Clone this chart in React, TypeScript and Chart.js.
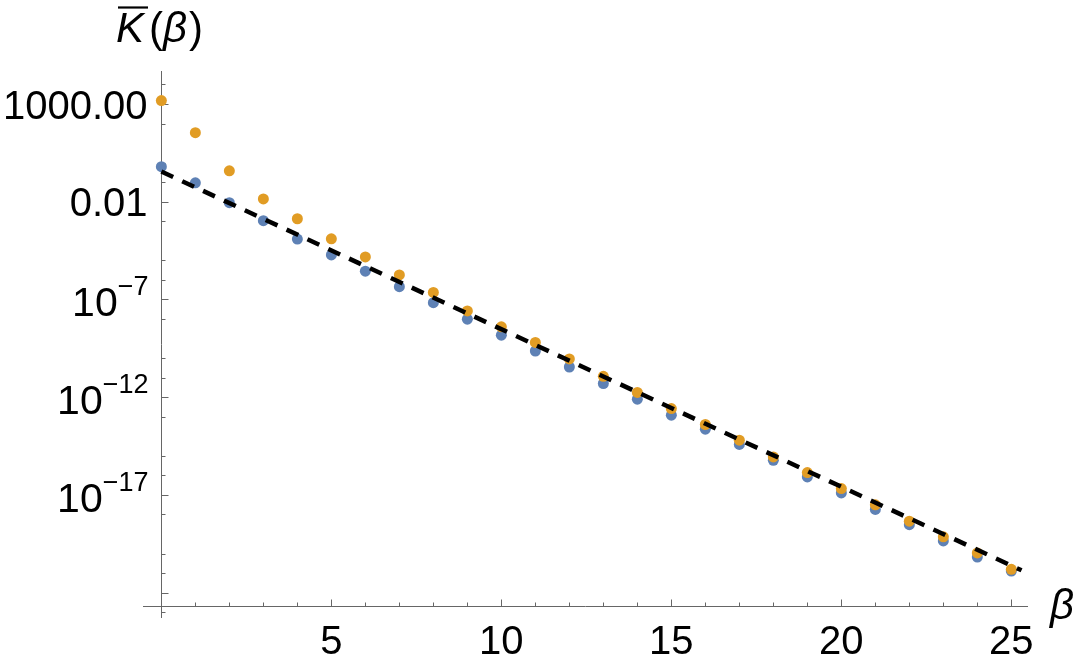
import React, { useEffect, useRef } from "react";
import { Chart, registerables } from "chart.js";

Chart.register(...registerables);

// ---- data ----
const betaValues = [0, 1, 2, 3, 4, 5, 6, 7, 8, 9, 10, 11, 12, 13, 14, 15, 16, 17, 18, 19, 20, 21, 22, 23, 24, 25];
const blueSeries = [
  6.2e-1, 9.3e-2, 8.9e-3, 1.07e-3, 1.23e-4, 1.9e-5, 2.8e-6, 4.5e-7, 6.8e-8, 9.8e-9,
  1.48e-9, 2.3e-10, 3.5e-11, 5.0e-12, 7.9e-13, 1.2e-13, 2.3e-14, 3.8e-15, 5.9e-16, 8.3e-17,
  1.26e-17, 1.8e-18, 3.0e-19, 4.4e-20, 6.6e-21, 1.26e-21,
];
const orangeSeries = [
  1.5e3, 3.4e1, 3.8e-1, 1.4e-2, 1.35e-3, 1.26e-4, 1.5e-5, 1.8e-6, 2.3e-7, 2.6e-8,
  4.0e-9, 6.3e-10, 9.1e-11, 1.17e-11, 1.74e-12, 2.6e-13, 4.0e-14, 6.3e-15, 8.7e-16, 1.38e-16,
  2.1e-17, 3.1e-18, 4.5e-19, 7.1e-20, 1.07e-20, 1.55e-21,
];
const fitX = [0, 25.3];
const fitY = [3.5e-1, 1.38e-21];

// ---- axes / ticks ----
const xRange = [-0.54, 25.49];
const yRangeExp = [-23.3, 4.69];
const xAxisCrossExp = -22.73;
const xMajorTicks = [5, 10, 15, 20, 25];
const xMajorLabels = ["5", "10", "15", "20", "25"];
const xMinorTicks = [1, 2, 3, 4, 6, 7, 8, 9, 11, 12, 13, 14, 16, 17, 18, 19, 21, 22, 23, 24];
const yMajorExps = [3, -2, -7, -12, -17, -22];
const yMajorBase = ["1000.00", "0.01", "10", "10", "10", ""];
const yMajorSup = ["", "", "\u22127", "\u221212", "\u221217", ""];
const yMinorExps = [4, 2, 0, -1, -3, -5, -6, -8, -10, -11, -13, -15, -16, -18, -20, -21, -23];

const BLUE = "rgb(94,129,181)";
const ORANGE = "rgb(225,156,36)";
const AXIS = "rgb(102,102,102)";
const SANS = '"Liberation Sans", Arial, sans-serif';

const mmaAxes = {
  id: "mmaAxes",
  beforeDatasetsDraw(chart: any) {
    const { ctx, chartArea } = chart;
    const xs = chart.scales.x;
    const ys = chart.scales.y;
    const ax = Math.round(xs.getPixelForValue(0)) + 0.5;
    const ay = Math.floor(ys.getPixelForValue(Math.pow(10, xAxisCrossExp))) + 0.5;
    ctx.save();
    ctx.strokeStyle = AXIS;
    ctx.lineWidth = 1;
    ctx.beginPath();
    ctx.moveTo(ax, chartArea.top);
    ctx.lineTo(ax, chartArea.bottom);
    ctx.moveTo(chartArea.left, ay);
    ctx.lineTo(chartArea.right, ay);
    yMajorExps.forEach((e) => {
      const p = Math.round(ys.getPixelForValue(Math.pow(10, e))) + 0.5;
      ctx.moveTo(ax, p);
      ctx.lineTo(ax + 7, p);
    });
    yMinorExps.forEach((e) => {
      const p = Math.round(ys.getPixelForValue(Math.pow(10, e))) + 0.5;
      ctx.moveTo(ax, p);
      ctx.lineTo(ax + 4, p);
    });
    xMajorTicks.forEach((v) => {
      const p = Math.round(xs.getPixelForValue(v)) + 0.5;
      ctx.moveTo(p, ay);
      ctx.lineTo(p, ay - 7);
    });
    xMinorTicks.forEach((v) => {
      const p = Math.round(xs.getPixelForValue(v)) + 0.5;
      ctx.moveTo(p, ay);
      ctx.lineTo(p, ay - 4);
    });
    ctx.stroke();

    // tick labels
    ctx.fillStyle = "#000";
    ctx.textBaseline = "alphabetic";
    const rightEdge = 148.5;
    yMajorExps.forEach((e, i) => {
      const p = ys.getPixelForValue(Math.pow(10, e));
      const base = yMajorBase[i];
      const sup = yMajorSup[i];
      if (!base) return;
      if (!sup) {
        ctx.font = `40px ${SANS}`;
        ctx.textAlign = "right";
        ctx.fillText(base, rightEdge - 1, p + 14.5);
      } else {
        ctx.font = `27px ${SANS}`;
        ctx.textAlign = "right";
        const sw = ctx.measureText(sup).width;
        ctx.fillText(sup, rightEdge, p - 4);
        ctx.font = `41px ${SANS}`;
        ctx.fillText(base, rightEdge - sw, p + 17);
      }
    });
    ctx.font = `40px ${SANS}`;
    ctx.textAlign = "center";
    xMajorTicks.forEach((v, i) => {
      const p = xs.getPixelForValue(v);
      ctx.fillText(xMajorLabels[i], p, 653.5);
    });

    // axis labels
    ctx.textAlign = "left";
    let tx = 116;
    const ty = 42;
    ctx.font = `italic 42px ${SANS}`;
    const kW = ctx.measureText("K").width;
    ctx.fillText("K", tx, ty);
    ctx.strokeStyle = "#000";
    ctx.lineWidth = 2.2;
    ctx.beginPath();
    ctx.moveTo(tx + 2, 7.5);
    ctx.lineTo(tx + kW + 4, 7.5);
    ctx.stroke();
    tx += kW + 5;
    ctx.font = `42px ${SANS}`;
    ctx.fillText("(", tx, ty);
    tx += ctx.measureText("(").width;
    ctx.font = `italic 42px ${SANS}`;
    ctx.fillText("\u03B2", tx, ty);
    tx += ctx.measureText("\u03B2").width + 2;
    ctx.font = `42px ${SANS}`;
    ctx.fillText(")", tx, ty);

    ctx.font = `italic 42px ${SANS}`;
    ctx.fillText("\u03B2", 1050, 619);
    ctx.restore();
  },
};

export default function App() {
  const ref = useRef<HTMLCanvasElement | null>(null);
  useEffect(() => {
    if (!ref.current) return;
    const chart = new Chart(ref.current, {
      type: "scatter",
      data: {
        datasets: [
          {
            label: "fit",
            data: fitX.map((x, i) => ({ x, y: fitY[i] })),
            showLine: true,
            borderColor: "#000",
            borderWidth: 4.5,
            borderDash: [13, 10],
            borderCapStyle: "butt",
            pointRadius: 0,
            fill: false,
            order: 0,
          } as any,
          {
            label: "orange",
            data: betaValues.map((x, i) => ({ x, y: orangeSeries[i] })),
            backgroundColor: ORANGE,
            borderWidth: 0,
            pointRadius: 5.5,
            order: 1,
          },
          {
            label: "blue",
            data: betaValues.map((x, i) => ({ x, y: blueSeries[i] })),
            backgroundColor: BLUE,
            borderWidth: 0,
            pointRadius: 5.5,
            order: 2,
          },
        ],
      },
      options: {
        animation: false,
        responsive: false,
        devicePixelRatio: 1,
        layout: { padding: { left: 143, right: 52, top: 71, bottom: 50 } },
        plugins: { legend: { display: false }, tooltip: { enabled: false } },
        events: [],
        scales: {
          x: { type: "linear", min: xRange[0], max: xRange[1], display: false },
          y: {
            type: "logarithmic",
            min: Math.pow(10, yRangeExp[0]),
            max: Math.pow(10, yRangeExp[1]),
            display: false,
          },
        },
      },
      plugins: [mmaAxes],
    });
    return () => chart.destroy();
  }, []);
  return (
    <div style={{ position: "absolute", left: 0, top: 0, width: 1080, height: 668, background: "#fff" }}>
      <canvas ref={ref} width={1080} height={668} />
    </div>
  );
}
